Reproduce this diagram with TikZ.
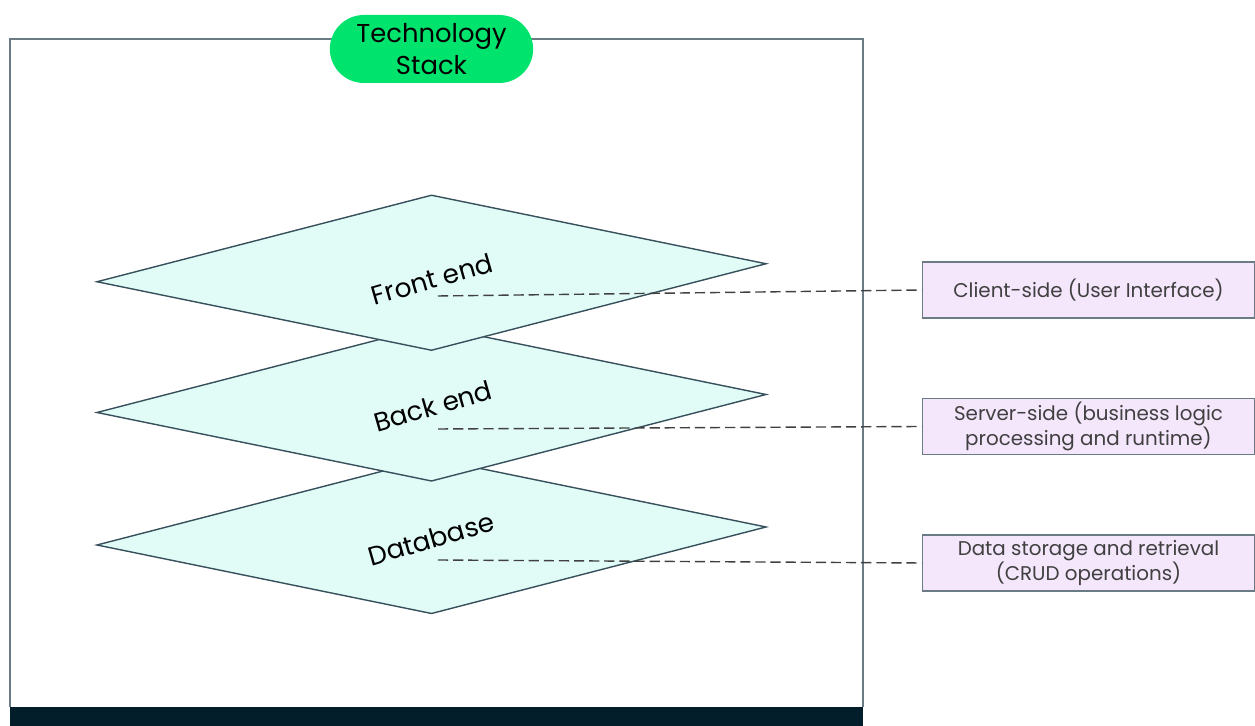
\documentclass[tikz,border=0pt]{standalone}
\usepackage{fontspec}
\setmainfont{Poppins}
\usetikzlibrary{shapes.misc}
\definecolor{framegray}{HTML}{6B7B85}
\definecolor{darkbar}{HTML}{011E2A}
\definecolor{pillgreen}{HTML}{00E46D}
\definecolor{layerfill}{HTML}{E1FBF7}
\definecolor{layeredge}{HTML}{37505C}
\definecolor{notefill}{HTML}{F4E6FB}
\definecolor{notetext}{HTML}{404040}
\newcommand{\stacklayer}[1]{% one skewed layer, centred at (8.63,#1)
  \draw[layer] (8.63,#1+1.55) -- (15.32,#1+0.18) -- (8.63,#1-1.55) -- (1.94,#1-0.18) -- cycle;}

\begin{document}
\begin{tikzpicture}[
    layer/.style={fill=layerfill, draw=layeredge, line width=0.8pt},
    layername/.style={rotate=16, font=\fontsize{15}{17}\selectfont, text=black},
    note/.style={draw=framegray, line width=1pt, fill=notefill, text=notetext, minimum width=6.64cm, minimum height=1.12cm, align=center, inner sep=1pt, font=\fontsize{11.3}{13.5}\selectfont},
    link/.style={dash pattern=on 5.8pt off 2.8pt, draw=notetext, line width=0.8pt}]
			\useasboundingbox (0,0) rectangle (25.1,14.52);
			
			% Frame with the dark bar at the bottom
			\draw[framegray, line width=1pt] (0.2,0.38) -- (0.2,13.74) -- (17.26,13.74) -- (17.26,0.38);
			\fill[darkbar] (0.2,0) rectangle (17.26,0.38);
			\node[rounded rectangle, fill=pillgreen, minimum width=4.3cm, minimum height=1.36cm, align=center, font=\fontsize{14.7}{18}\selectfont] (title) at (8.63,13.54) {Technology\\Stack};
			
			% Layers, drawn from the bottom up
			\stacklayer{3.80}
			\stacklayer{6.45}
			\stacklayer{9.065}
			\node[layername] (dbname) at (8.62,3.74) {Database};
			\node[layername] (backname) at (8.66,6.40) {Back end};
			\node[layername] (frontname) at (8.64,8.94) {Front end};
			
			% Descriptions on the right
			\node[note] (client) at (21.77,8.72) {Client-side (User Interface)};
			\node[note] (server) at (21.77,5.99) {Server-side (business logic\\processing and runtime)};
			\node[note] (storage) at (21.77,3.26) {Data storage and retrieval\\(CRUD operations)};
			
			\coordinate (frontend) at (8.76,8.60);
			\coordinate (backend) at (8.76,5.94);
			\coordinate (database) at (8.76,3.32);
			\draw[link] (frontend) -- (client.west);
			\draw[link] (backend) -- (server.west);
			\draw[link] (database) -- (storage.west);
			\end{tikzpicture}
\end{document}
